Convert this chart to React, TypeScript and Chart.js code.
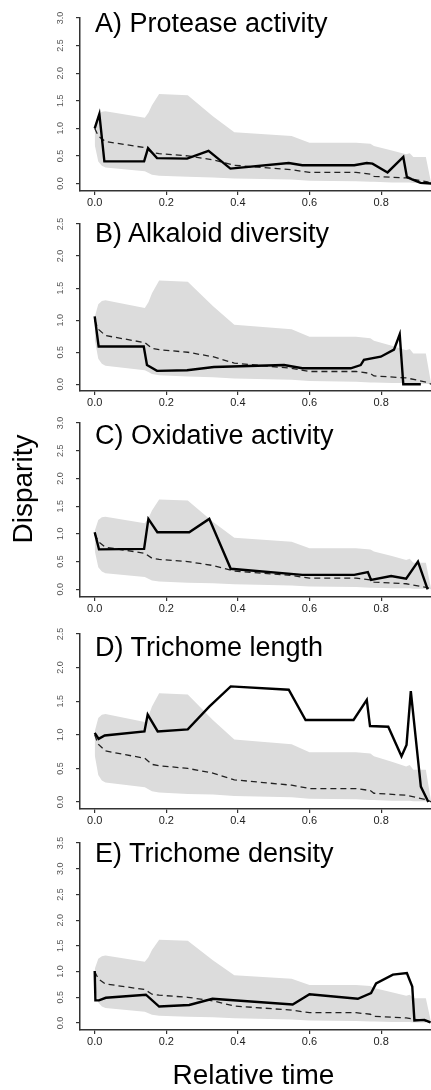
import React, { useEffect, useRef } from "react";
import { Chart, registerables } from "chart.js";

Chart.register(...registerables);

// ---- data ----
const xTicks = [0, 0.2, 0.4, 0.6, 0.8];
const xTickLabels = ["0.0", "0.2", "0.4", "0.6", "0.8"];
const yTicks25 = [0, 0.5, 1.0, 1.5, 2.0, 2.5];
const yTicks30 = [0, 0.5, 1.0, 1.5, 2.0, 2.5, 3.0];
const yTicks35 = [0, 0.5, 1.0, 1.5, 2.0, 2.5, 3.0, 3.5];

// null-model envelope (shared by all panels)
const envTime = [0, 0.01, 0.02, 0.03, 0.14, 0.15, 0.16, 0.18, 0.26, 0.33, 0.39, 0.55, 0.6, 0.73, 0.77, 0.78, 0.83, 0.87, 0.88, 0.89, 0.925, 0.94];
const envUpper = [1.05, 1.25, 1.3, 1.31, 1.19, 1.28, 1.42, 1.62, 1.6, 1.22, 0.93, 0.86, 0.74, 0.74, 0.72, 0.68, 0.6, 0.53, 0.55, 0.48, 0.48, 0.0];
const envLower = [0.7, 0.4, 0.32, 0.29, 0.22, 0.19, 0.16, 0.14, 0.12, 0.11, 0.09, 0.07, 0.05, 0.04, 0.03, 0.03, 0.02, 0.02, 0.02, 0.01, 0.01, 0.0];

// null-model median (dashed)
const nullTime = [0, 0.01, 0.03, 0.14, 0.16, 0.18, 0.26, 0.33, 0.39, 0.55, 0.6, 0.73, 0.77, 0.78, 0.87, 0.93, 0.94];
const nullMedian = [1.0, 0.86, 0.76, 0.65, 0.56, 0.54, 0.5, 0.43, 0.33, 0.25, 0.2, 0.2, 0.17, 0.13, 0.1, 0.03, 0.0];

// observed disparity
const timeA = [0, 0.013, 0.027, 0.138, 0.149, 0.174, 0.258, 0.318, 0.379, 0.542, 0.58, 0.725, 0.76, 0.776, 0.818, 0.862, 0.872, 0.885, 0.91, 0.94];
const dispA = [1.0, 1.26, 0.4, 0.4, 0.64, 0.46, 0.45, 0.59, 0.27, 0.37, 0.33, 0.33, 0.37, 0.36, 0.2, 0.48, 0.12, 0.08, 0.01, 0.0];

const timeB = [0, 0.011, 0.137, 0.146, 0.174, 0.258, 0.333, 0.529, 0.58, 0.715, 0.743, 0.752, 0.799, 0.836, 0.852, 0.862, 0.911];
const dispB = [1.06, 0.59, 0.59, 0.3, 0.21, 0.22, 0.27, 0.3, 0.25, 0.25, 0.3, 0.38, 0.43, 0.54, 0.78, 0.0, 0.0];

const timeC = [0, 0.012, 0.138, 0.15, 0.175, 0.264, 0.32, 0.38, 0.58, 0.725, 0.763, 0.772, 0.828, 0.87, 0.903, 0.93];
const dispC = [1.03, 0.72, 0.73, 1.27, 1.03, 1.03, 1.27, 0.37, 0.26, 0.26, 0.31, 0.17, 0.24, 0.19, 0.5, 0.0];

const timeD = [0, 0.011, 0.028, 0.139, 0.148, 0.176, 0.26, 0.32, 0.38, 0.542, 0.589, 0.723, 0.76, 0.769, 0.82, 0.857, 0.871, 0.883, 0.911, 0.932];
const dispD = [1.03, 0.94, 0.99, 1.05, 1.3, 1.05, 1.08, 1.42, 1.72, 1.67, 1.22, 1.22, 1.52, 1.13, 1.12, 0.68, 0.85, 1.65, 0.23, 0.0];

const timeE = [0, 0.002, 0.012, 0.031, 0.143, 0.18, 0.264, 0.329, 0.553, 0.6, 0.735, 0.772, 0.786, 0.833, 0.872, 0.887, 0.893, 0.921, 0.938];
const dispE = [1.01, 0.44, 0.44, 0.49, 0.55, 0.32, 0.35, 0.47, 0.36, 0.56, 0.47, 0.58, 0.77, 0.94, 0.97, 0.71, 0.05, 0.06, 0.01];

const titles = ["A) Protease activity", "B) Alkaloid diversity", "C) Oxidative activity", "D) Trichome length", "E) Trichome density"];
const yLabel = "Disparity";
const xLabel = "Relative time";

// ---- layout (pixels) ----
const FONT = '"Liberation Sans", Arial, Helvetica, sans-serif';
const W = 431;
const CANVAS_W = 440;
const AXIS_LEFT = 80;
const X_ZERO = 94.7;
const X_PPU = 358;
const PAD_TOP = 8;
const X_AXIS_H = 26;

type PanelCfg = {
  title: string;
  time: number[];
  disp: number[];
  yTicks: number[];
  top: number; // pixel of top tick
  zero: number; // pixel of 0
  axis: number; // pixel of x-axis line
  titleBase: number;
};

const panels: PanelCfg[] = [
  { title: titles[0], time: timeA, disp: dispA, yTicks: yTicks30, top: 18, zero: 183, axis: 190.5, titleBase: 33 },
  { title: titles[1], time: timeB, disp: dispB, yTicks: yTicks25, top: 224, zero: 384.3, axis: 391, titleBase: 243 },
  { title: titles[2], time: timeC, disp: dispC, yTicks: yTicks30, top: 422.7, zero: 589, axis: 596.7, titleBase: 445 },
  { title: titles[3], time: timeD, disp: dispD, yTicks: yTicks25, top: 634.3, zero: 802.3, axis: 809.3, titleBase: 657 },
  { title: titles[4], time: timeE, disp: dispE, yTicks: yTicks35, top: 842.7, zero: 1022.3, axis: 1029.3, titleBase: 863 },
];

const pts = (xs: number[], ys: number[]) => xs.map((x, i) => ({ x, y: ys[i] }));

const labelPlugin = {
  id: "rLabels",
  afterDraw(chart: any) {
    const ctx = chart.ctx;
    const xs = chart.scales.x;
    const ys = chart.scales.y;
    const yt: number[] = chart.options.plugins.rLabels.yTicks;
    ctx.save();
    // y tick labels, rotated
    ctx.fillStyle = "#555";
    ctx.font = `9px ${FONT}`;
    ctx.textAlign = "center";
    ctx.textBaseline = "middle";
    yt.forEach((v) => {
      const py = ys.getPixelForValue(v);
      ctx.save();
      ctx.translate(61, py);
      ctx.rotate(-Math.PI / 2);
      ctx.fillText(v.toFixed(1), 0, 0);
      ctx.restore();
    });
    // x tick labels
    ctx.fillStyle = "#222";
    ctx.font = `11px ${FONT}`;
    xTicks.forEach((v, i) => {
      const px = xs.getPixelForValue(v);
      ctx.fillText(xTickLabels[i], px, chart.chartArea.bottom + 12);
    });
    ctx.restore();
  },
};

function Panel({ cfg }: { cfg: PanelCfg }) {
  const ref = useRef<HTMLCanvasElement | null>(null);
  const yMax = cfg.yTicks[cfg.yTicks.length - 1];
  const ppu = (cfg.zero - cfg.top) / yMax;
  const yMin = -(cfg.axis - cfg.zero) / ppu;
  const canvasTop = cfg.top - PAD_TOP;
  const canvasH = Math.round(cfg.axis + X_AXIS_H - canvasTop);
  const xMin = -(X_ZERO - AXIS_LEFT) / X_PPU;
  const xMax = (CANVAS_W - X_ZERO) / X_PPU;

  useEffect(() => {
    if (!ref.current) return;
    const chart = new Chart(ref.current, {
      type: "line",
      data: {
        datasets: [
          {
            label: "observed",
            data: pts(cfg.time, cfg.disp),
            borderColor: "#000",
            borderWidth: 2.4,
            pointRadius: 0,
            tension: 0,
            fill: false,
          },
          {
            label: "median",
            data: pts(nullTime, nullMedian),
            borderColor: "#222",
            borderWidth: 1.3,
            borderDash: [6, 4],
            pointRadius: 0,
            tension: 0,
            fill: false,
          },
          {
            label: "upper",
            data: pts(envTime, envUpper),
            borderWidth: 0,
            borderColor: "rgba(0,0,0,0)",
            backgroundColor: "#dcdcdc",
            pointRadius: 0,
            tension: 0,
            fill: "+1",
          },
          {
            label: "lower",
            data: pts(envTime, envLower),
            borderWidth: 0,
            borderColor: "rgba(0,0,0,0)",
            pointRadius: 0,
            tension: 0,
            fill: false,
          },
        ],
      },
      options: {
        animation: false,
        responsive: false,
        devicePixelRatio: 1,
        layout: { padding: { top: PAD_TOP, left: 0, right: 0, bottom: 0 } },
        plugins: {
          legend: { display: false },
          tooltip: { enabled: false },
          rLabels: { yTicks: cfg.yTicks },
        } as any,
        scales: {
          x: {
            type: "linear",
            min: xMin,
            max: xMax,
            afterBuildTicks: (axis: any) => {
              axis.ticks = xTicks.map((v) => ({ value: v }));
            },
            afterFit: (scale: any) => {
              scale.height = X_AXIS_H;
            },
            ticks: { display: false },
            grid: { display: true, drawOnChartArea: false, drawTicks: true, tickLength: 4, color: "#333", lineWidth: 1.2 },
            border: { display: true, color: "#333", width: 1.5 },
          },
          y: {
            type: "linear",
            min: yMin,
            max: yMax,
            afterBuildTicks: (axis: any) => {
              axis.ticks = cfg.yTicks.map((v) => ({ value: v }));
            },
            afterFit: (scale: any) => {
              scale.width = AXIS_LEFT;
            },
            ticks: { display: false },
            grid: { display: true, drawOnChartArea: false, drawTicks: true, tickLength: 4, color: "#333", lineWidth: 1.2 },
            border: { display: true, color: "#333", width: 1.5 },
          },
        },
      },
      plugins: [labelPlugin],
    });
    return () => chart.destroy();
  }, []);

  return (
    <>
      <canvas
        ref={ref}
        width={CANVAS_W}
        height={canvasH}
        style={{ position: "absolute", left: 0, top: canvasTop, width: CANVAS_W, height: canvasH }}
      />
      <div
        style={{
          position: "absolute",
          left: 95,
          top: cfg.titleBase - 23,
          fontFamily: FONT,
          fontSize: 27,
          lineHeight: "27px",
          whiteSpace: "nowrap",
          color: "#000",
        }}
      >
        {cfg.title}
      </div>
    </>
  );
}

export default function App() {
  return (
    <div
      style={{
        position: "absolute",
        left: 0,
        top: 0,
        width: W,
        height: 1090,
        overflow: "hidden",
        background: "#fff",
      }}
    >
      {panels.map((p, i) => (
        <Panel key={i} cfg={p} />
      ))}
      <div
        style={{
          position: "absolute",
          left: 23.3 - 100,
          top: 489 - 14,
          width: 200,
          height: 28,
          lineHeight: "28px",
          fontSize: 28,
          fontFamily: FONT,
          textAlign: "center",
          transform: "rotate(-90deg)",
          whiteSpace: "nowrap",
        }}
      >
        {yLabel}
      </div>
      <div
        style={{
          position: "absolute",
          left: 153.5,
          top: 1061,
          width: 200,
          height: 28,
          lineHeight: "28px",
          fontSize: 28,
          fontFamily: FONT,
          textAlign: "center",
          whiteSpace: "nowrap",
        }}
      >
        {xLabel}
      </div>
    </div>
  );
}
